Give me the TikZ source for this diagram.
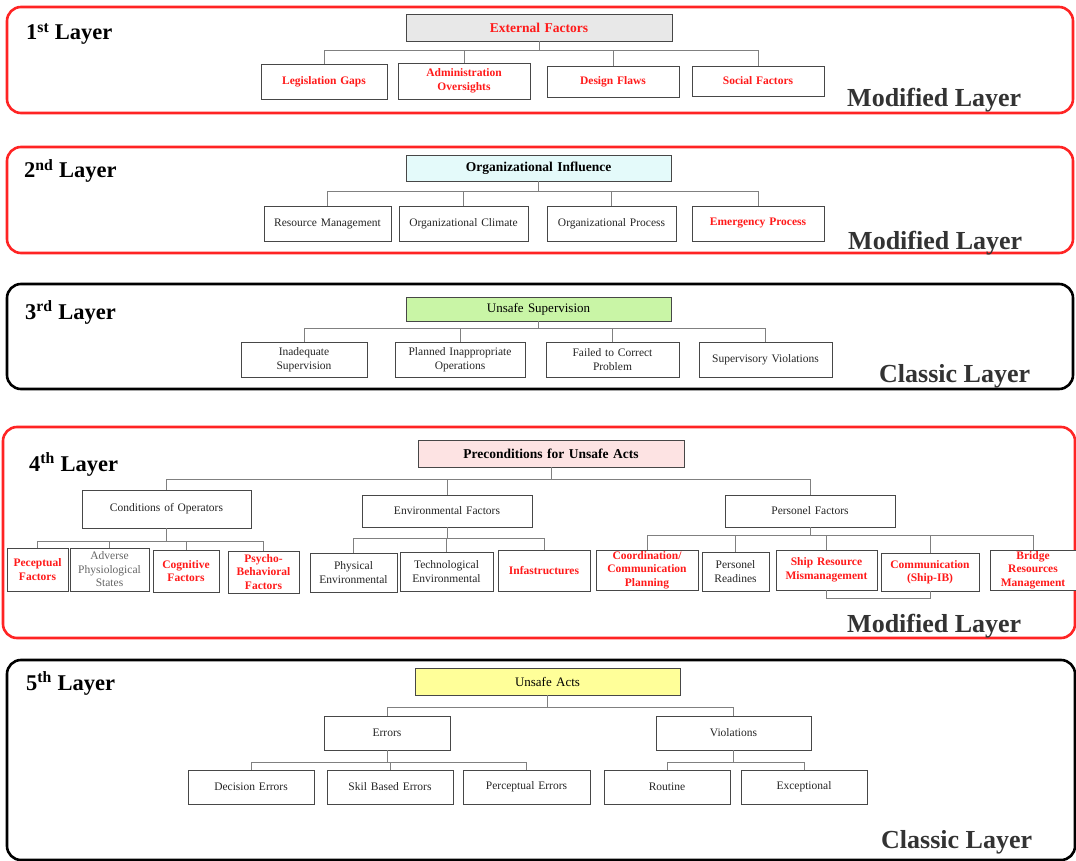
\documentclass[tikz,border=0pt]{standalone}
\usepackage{fontspec}
\setmainfont{Liberation Serif}
\definecolor{myred}{HTML}{FF1A1A}
\definecolor{framered}{HTML}{FF2424}
\definecolor{txtgray}{HTML}{333333}
\definecolor{extgray}{HTML}{E8E8E8}
\definecolor{orgcyan}{HTML}{E4FAFA}
\definecolor{supgreen}{HTML}{C9F5A6}
\definecolor{prepink}{HTML}{FDE3E3}
\definecolor{actyellow}{HTML}{FFFF99}
\tikzset{
  redframe/.style={draw=framered,line width=2.6pt,rounded corners=14pt},
  blackframe/.style={draw=black,line width=2.6pt,rounded corners=14pt},
  box/.style={draw=black!72,line width=0.9pt,fill=white,inner sep=0pt,align=center,
    text=black!85,font=\fontsize{11.5}{13.5}\selectfont},
  redtxt/.style={text=myred,font=\fontsize{11.5}{13.5}\selectfont\bfseries},
  graytxt/.style={text=black!60},
  parentb/.style={font=\fontsize{13.5}{15}\selectfont\bfseries},
  parentn/.style={font=\fontsize{13}{15}\selectfont},
  conn/.style={draw=black!50,line width=0.9pt},
  lab/.style={anchor=base west,inner sep=0pt,font=\fontsize{22.5}{24}\selectfont\bfseries},
  kind/.style={anchor=base west,inner sep=0pt,text=txtgray,font=\fontsize{26}{28}\selectfont\bfseries}
}
\newcommand\bx[7]{%
  \pgfmathsetmacro\bxCX{(#2+#4)/2}%
  \pgfmathsetmacro\bxCY{(#3+#5)/2}%
  \pgfmathsetmacro\bxW{#4-#2}%
  \pgfmathsetmacro\bxH{#5-#3}%
  \pgfmathsetmacro\bxT{#4-#2-3}%
  \node[box,#6,minimum width=\bxW pt,minimum height=\bxH pt,text width=\bxT pt] (#1) at (\bxCX,\bxCY) {#7};}
\begin{document}
\begin{tikzpicture}[x=1pt,y=-1pt]
\useasboundingbox (0,0) rectangle (1076,861);
% frames
\draw[redframe] (7,7) rectangle (1073,113);
\draw[redframe] (7,147) rectangle (1073,253);
\draw[blackframe] (7,284) rectangle (1073,389);
\draw[redframe] (3,427) rectangle (1075,638);
\draw[blackframe] (7,660) rectangle (1075,860);
% layer labels
\node[lab] (l1) at (26,40) {1\textsuperscript{st} Layer};
\node[lab] (l2) at (24,178) {2\textsuperscript{nd} Layer};
\node[lab] (l3) at (25,319) {3\textsuperscript{rd} Layer};
\node[lab] (l4) at (29,471) {4\textsuperscript{th} Layer};
\node[lab] (l5) at (26,690) {5\textsuperscript{th} Layer};
\node[kind] (k1) at (847,107) {Modified Layer};
\node[kind] (k2) at (848,249) {Modified Layer};
\node[kind] (k3) at (879,382) {Classic Layer};
\node[kind] (k4) at (847,632) {Modified Layer};
\node[kind] (k5) at (881,848) {Classic Layer};
% ---------- Layer 1
\bx{ef}{406}{14}{672}{41}{fill=extgray,text=myred,parentb}{External Factors}
\bx{lg}{261}{64}{387}{99}{redtxt}{Legislation Gaps}
\bx{ao}{398}{63}{530}{99}{redtxt}{Administration\\Oversights}
\bx{df}{547}{66}{679}{97}{redtxt}{Design Flaws}
\bx{sf}{692}{66}{824}{96}{redtxt}{Social Factors}
\coordinate (b1) at (0,50);
\foreach \c in {lg,ao,df,sf} \draw[conn] (ef.south) -- (ef.south |- b1) -| (\c.north);
% ---------- Layer 2
\bx{oi}{406}{155}{671}{181}{fill=orgcyan,text=black,parentb}{Organizational Influence}
\bx{rm}{264}{206}{391}{241}{}{Resource Management}
\bx{oc}{399}{206}{528}{241}{}{Organizational Climate}
\bx{op}{547}{206}{676}{241}{}{Organizational Process}
\bx{ep}{692}{206}{824}{241}{redtxt}{Emergency Process}
\coordinate (b2) at (0,191);
\foreach \c in {rm,oc,op,ep} \draw[conn] (oi.south) -- (oi.south |- b2) -| (\c.north);
% ---------- Layer 3
\bx{us}{406}{297}{671}{321}{fill=supgreen,text=black,parentn}{Unsafe Supervision}
\bx{is}{241}{342}{367}{377}{}{Inadequate\\Supervision}
\bx{pio}{395}{342}{525}{377}{}{Planned Inappropriate\\Operations}
\bx{fcp}{546}{342}{679}{377}{}{Failed to Correct\\Problem}
\bx{sv}{699}{342}{832}{377}{}{Supervisory Violations}
\coordinate (b3) at (0,328);
\foreach \c in {is,pio,fcp,sv} \draw[conn] (us.south) -- (us.south |- b3) -| (\c.north);
% ---------- Layer 4
\bx{pc}{418}{440}{684}{467}{fill=prepink,text=black,parentb}{Preconditions for Unsafe Acts}
\bx{co}{82}{490}{251}{528}{}{Conditions of Operators}
\bx{env}{362}{495}{532}{527}{}{Environmental Factors}
\bx{pf}{725}{495}{895}{527}{}{Personel Factors}
\coordinate (b4) at (0,479);
\foreach \c in {co,env,pf} \draw[conn] (pc.south) -- (pc.south |- b4) -| (\c.north);
\bx{pcf}{7}{548}{68}{591}{redtxt}{Peceptual\\Factors}
\bx{aps}{70}{548}{149}{591}{graytxt}{Adverse\\Physiological\\States}
\bx{cf}{153}{550}{219}{592}{redtxt}{Cognitive\\Factors}
\bx{pbf}{228}{551}{299}{593}{redtxt}{Psycho-\\Behavioral\\Factors}
\coordinate (b4a) at (0,541);
\foreach \c in {pcf,aps,cf,pbf} \draw[conn] (co.south) -- (co.south |- b4a) -| (\c.north);
\bx{phe}{310}{553}{397}{592}{}{Physical\\Environmental}
\bx{te}{400}{552}{493}{591}{}{Technological\\Environmental}
\bx{inf}{498}{550}{590}{591}{redtxt}{Infastructures}
\coordinate (b4b) at (0,538);
\foreach \c in {phe,te,inf} \draw[conn] (env.south) -- (env.south |- b4b) -| (\c.north);
\bx{ccp}{596}{550}{698}{590}{redtxt}{Coordination/\\Communication\\Planning}
\bx{pr}{702}{552}{769}{591}{}{Personel\\Readines}
\bx{srm}{776}{550}{877}{590}{redtxt}{Ship Resource\\Mismanagement}
\bx{cs}{881}{553}{979}{591}{redtxt}{Communication\\(Ship-IB)}
\bx{brm}{990}{550}{1076}{590}{redtxt}{Bridge\\Resources\\Management}
\coordinate (b4c) at (0,535);
\foreach \c in {ccp,pr,srm,cs,brm} \draw[conn] (pf.south) -- (pf.south |- b4c) -| (\c.north);
\coordinate (b4d) at (0,598);
\draw[conn] (srm.south) -- (srm.south |- b4d) -| (cs.south);
% ---------- Layer 5
\bx{ua}{415}{668}{680}{695}{fill=actyellow,text=black,parentn}{Unsafe Acts}
\bx{er}{324}{716}{450}{750}{}{Errors}
\bx{vi}{656}{716}{811}{750}{}{Violations}
\coordinate (b5) at (0,707);
\foreach \c in {er,vi} \draw[conn] (ua.south) -- (ua.south |- b5) -| (\c.north);
\bx{de}{188}{770}{314}{804}{}{Decision Errors}
\bx{sbe}{327}{770}{453}{804}{}{Skil Based Errors}
\bx{pe}{463}{770}{590}{804}{}{Perceptual Errors}
\bx{ro}{604}{770}{730}{804}{}{Routine}
\bx{ex}{741}{770}{867}{804}{}{Exceptional}
\coordinate (b5a) at (0,762);
\foreach \c in {de,sbe,pe} \draw[conn] (er.south) -- (er.south |- b5a) -| (\c.north);
\foreach \c in {ro,ex} \draw[conn] (vi.south) -- (vi.south |- b5a) -| (\c.north);
\end{tikzpicture}
\end{document}
